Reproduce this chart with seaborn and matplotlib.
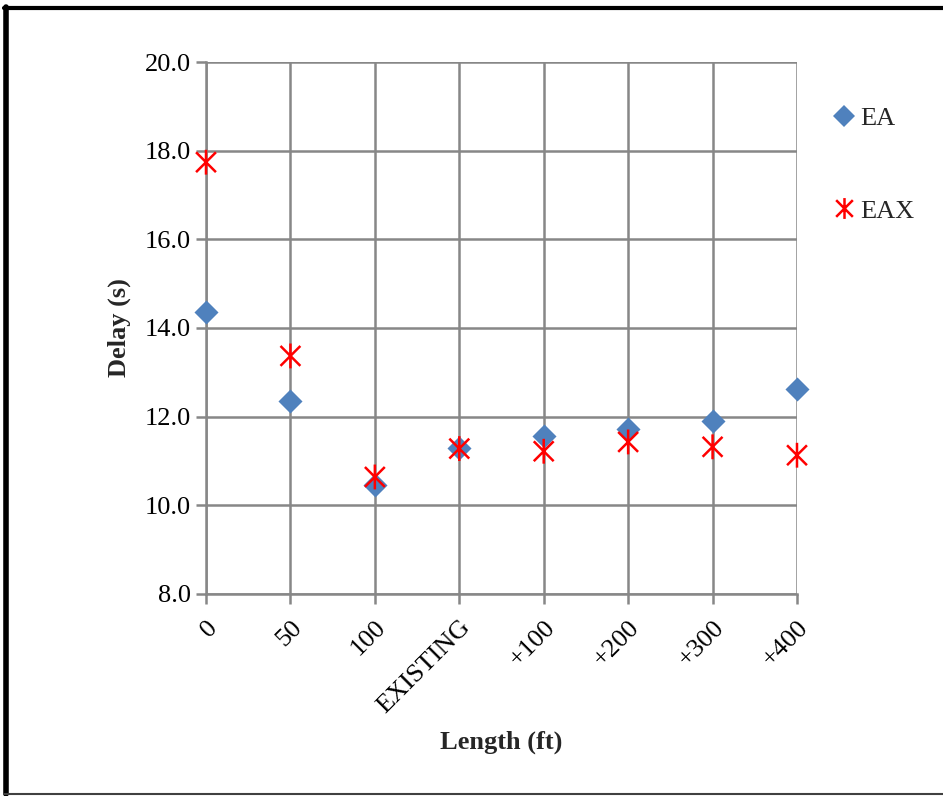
import numpy as np
import pandas as pd
import seaborn as sns
import matplotlib
matplotlib.use("Agg")
import matplotlib.pyplot as plt
from matplotlib.path import Path
from matplotlib.lines import Line2D

categories = ["0", "50", "100", "EXISTING", "+100", "+200", "+300", "+400"]
ea_values = [14.36, 12.35, 10.46, 11.29, 11.56, 11.72, 11.90, 12.63]
eax_values = [17.74, 13.37, 10.64, 11.28, 11.22, 11.43, 11.32, 11.13]

sns.set_theme(style="white")
plt.rcParams["font.family"] = ["Liberation Serif", "DejaVu Serif"]

pos = np.arange(len(categories))
df = pd.DataFrame({"pos": pos, "EA": ea_values, "EAX": eax_values})

fig = plt.figure(figsize=(9.43, 7.96), dpi=100)
ax = fig.add_axes([206 / 943, 1 - 594 / 796, (797 - 206) / 943, (594 - 62) / 796])

# asterisk marker: X plus vertical line
ast = Path(
    [(-1, -1), (1, 1), (-1, 1), (1, -1), (0, -1.25), (0, 1.25)],
    [Path.MOVETO, Path.LINETO, Path.MOVETO, Path.LINETO, Path.MOVETO, Path.LINETO],
)

sns.scatterplot(data=df, x="pos", y="EA", marker="D", s=150, color="#4F81BD",
                edgecolor="#4F81BD", linewidth=0, ax=ax, zorder=3, clip_on=False)
sns.scatterplot(data=df, x="pos", y="EAX", marker=ast, s=320, facecolor="none",
                edgecolor="#FF0000", linewidth=1.8, ax=ax, zorder=4, clip_on=False)

ax.set_xlim(0, len(categories) - 1)
ax.set_ylim(8, 20)
ax.set_yticks(np.arange(8, 20.1, 2))
ax.set_yticklabels([f"{v:.1f}" for v in np.arange(8, 20.1, 2)], fontsize=19)
ax.set_xticks(pos)
ax.set_xticklabels(categories, fontsize=19, rotation=45, ha="right",
                   rotation_mode="anchor")
ax.grid(True, color="#878787", linewidth=1.8)
ax.set_axisbelow(True)
for side in ["top", "right"]:
    ax.spines[side].set_visible(False)
for side in ["left", "bottom"]:
    ax.spines[side].set_color("#878787")
    ax.spines[side].set_linewidth(1.8)
ax.tick_params(axis="both", which="major", length=7, width=1.8, color="#878787",
               direction="out", left=True, bottom=True, pad=4, labelcolor="black")
ax.tick_params(axis="x", pad=9)

ax.set_xlabel("Length (ft)", fontsize=19, fontweight="bold", labelpad=9)
ax.set_ylabel("Delay (s)", fontsize=19, fontweight="bold", labelpad=10)

handles = [
    Line2D([], [], marker="D", linestyle="none", markersize=11,
           markerfacecolor="#4F81BD", markeredgecolor="#4F81BD", markeredgewidth=0),
    Line2D([], [], marker=ast, linestyle="none", markersize=15,
           markerfacecolor="none", markeredgecolor="#FF0000", markeredgewidth=1.8),
]
fig.legend(handles, ["EA", "EAX"], loc="upper left", bbox_to_anchor=(835 / 943, 1 - 107 / 796),
           frameon=False, fontsize=19, labelspacing=2.6, handlelength=0.7,
           handletextpad=0.25, borderpad=0, borderaxespad=0)

# frame around the chart (left/top thick, bottom thin)
fig.add_artist(Line2D([5.5 / 943, 5.5 / 943], [1 - 7 / 796, 1 - 794 / 796],
                      transform=fig.transFigure, color="black", linewidth=4))
fig.add_artist(Line2D([4 / 943, 1.0], [1 - 7.5 / 796, 1 - 7.5 / 796],
                      transform=fig.transFigure, color="black", linewidth=3))
fig.add_artist(Line2D([4 / 943, 1.0], [1 - 794 / 796, 1 - 794 / 796],
                      transform=fig.transFigure, color="#404040", linewidth=1.5))

fig.savefig("out.png", dpi=100, facecolor="white")
